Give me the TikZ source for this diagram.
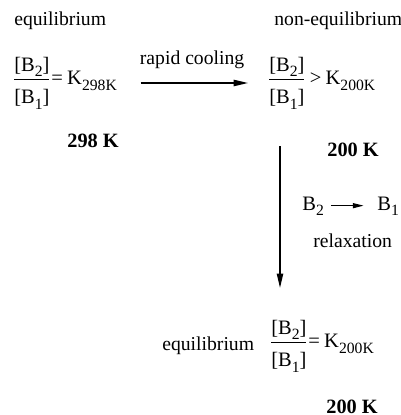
\documentclass[tikz,border=0pt]{standalone}
\usepackage{amsmath}
\usepackage{fontspec}
\setmainfont{Liberation Serif}
\usetikzlibrary{arrows.meta, positioning}
\newcommand{\lowsub}[1]{\raisebox{-0.28em}{\fontsize{9.4}{10}\selectfont #1}}
\newcommand{\ratioB}[2]{$\dfrac{\mbox{[B\lowsub{#1}]}}{\mbox{\raisebox{-3pt}{[B\lowsub{#2}]}}}$}
\tikzset{
  txt/.style={inner sep=0, anchor=base west},
  temp/.style={inner sep=0, anchor=base west, font=\fontsize{12.2}{14}\selectfont\bfseries},
  ratio/.style={inner sep=0, anchor=west, font=\fontsize{12.3}{14}\selectfont},
  arrow/.style={line width=0.8pt, -{Triangle[length=8.6pt, width=3.8pt]}},
  small arrow/.style={line width=0.8pt, -{Triangle[length=6.5pt, width=3pt]}}
}

\begin{document}
\begin{tikzpicture}[x=0.6pt, y=-0.6pt, font=\fontsize{11.8}{14}\selectfont]
  \useasboundingbox (0,0) rectangle (401,415);

  \node (eqLeftLbl) [txt] at (14,26) {equilibrium};
  \node (eqMidLbl) [txt] at (274,26) {non-equilibrium};
  \node (eqLeft) [ratio] at (12,83) {\ratioB{2}{1}=\hspace{2.5pt}K\lowsub{298K}};
  \node (eqMid) [ratio] at (267,83) {\ratioB{2}{1}\,>\hspace{2.5pt}K\lowsub{200K}};
  \node (tLeft) [temp] at (67,148) {298 K};
  \node (tMid) [temp] at (327,157) {200 K};

  \node (bTwo) [txt, font=\fontsize{12.3}{14}\selectfont] at (302,210) {B\lowsub{2}};
  \node (bOne) [txt, font=\fontsize{12.3}{14}\selectfont] at (377,210) {B\lowsub{1}};
  \node (relax) [txt] at (313,247) {relaxation};

  \node (eqBotLbl) [txt] at (162,350) {equilibrium};
  \node (eqBot) [ratio] at (269,346) {\ratioB{2}{1}=\hspace{2.5pt}K\lowsub{200K}};
  \node (tBot) [temp] at (326,413) {200 K};

  \draw [arrow, shorten <=14pt, shorten >=11.4pt] (eqLeft.east) -- node[above=8.2pt, inner sep=0] {rapid cooling} (eqMid.west);
  \coordinate (relaxTop) at ([xshift=7.8pt, yshift=-22pt]eqMid.south west);
  \draw [arrow, shorten >=19pt] (relaxTop) -- (relaxTop |- eqBot.north);
  \draw [small arrow, shorten <=4pt, shorten >=8pt] ([yshift=2.6pt]bTwo.base east) -- ([yshift=2.6pt]bOne.base west);

\end{tikzpicture}
\end{document}
